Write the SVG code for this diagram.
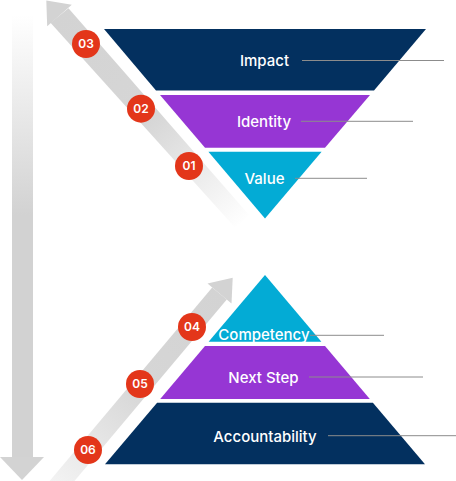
<svg xmlns="http://www.w3.org/2000/svg" width="456" height="481" viewBox="0 0 456 481">
  <defs>
    <linearGradient id="gLeft" gradientUnits="userSpaceOnUse" x1="0" y1="15" x2="0" y2="215">
      <stop offset="0" stop-color="#ffffff"/>
      <stop offset="1" stop-color="#d2d2d2"/>
    </linearGradient>
    <linearGradient id="gUp" gradientUnits="userSpaceOnUse" x1="59.5" y1="15.5" x2="242" y2="224">
      <stop offset="0" stop-color="#d3d3d3"/>
      <stop offset="0.5" stop-color="#d6d6d6"/>
      <stop offset="1" stop-color="#ffffff"/>
    </linearGradient>
    <linearGradient id="gLow" gradientUnits="userSpaceOnUse" x1="219.5" y1="293.5" x2="46" y2="500">
      <stop offset="0" stop-color="#d3d3d3"/>
      <stop offset="0.45" stop-color="#d6d6d6"/>
      <stop offset="1" stop-color="#f7f7f7"/>
    </linearGradient>
    <style>
      .lbl { font-family: Inter, "Noto Sans", "Liberation Sans", sans-serif; font-size: 15px; font-weight: 500; fill: #ffffff; text-anchor: middle; }
      .num { font-family: Inter, "Noto Sans", "Liberation Sans", sans-serif; font-size: 12px; font-weight: 600; fill: #ffffff; text-anchor: middle; }
      .badge { fill: #e3361a; }
      .lead { stroke: #8c8c8c; stroke-width: 1; fill: none; }
      .navy { fill: #03305f; }
      .purple { fill: #9636d4; }
      .cyan { fill: #03abd5; }
      .head { fill: #d3d3d3; }
    </style>
  </defs>

  <g id="arrows">
    <g id="arrow-left">
      <rect x="12" y="15" width="21" height="443" fill="url(#gLeft)"/>
      <polygon class="head" points="0,457 44,457 22,480"/>
    </g>
    <g id="arrow-up">
      <polygon points="68.5,8.3 249.5,215.5 235,227.5 50.5,22.7" fill="url(#gUp)"/>
      <polygon class="head" points="71.8,4.8 46.3,0.4 47.2,26.2"/>
    </g>
    <g id="arrow-low">
      <polygon points="226.8,299.6 53.4,506.1 38.8,493.9 212.2,287.4" fill="url(#gLow)"/>
      <polygon class="head" points="207.5,283.4 232.7,277.8 231.5,303.6"/>
    </g>
  </g>

  <g id="node-impact">
    <polygon class="navy" points="104,29 426,29 374,90.5 156,90.5"/>
    <text class="lbl" x="264.5" y="66">Impact</text>
  </g>
  <g id="node-identity">
    <polygon class="purple" points="160,95 370,95 325,147.7 205,147.7"/>
    <text class="lbl" x="264" y="126.5">Identity</text>
  </g>
  <g id="node-value">
    <polygon class="cyan" points="208.4,151.7 321.6,151.7 265,218.4"/>
    <text class="lbl" x="264.5" y="184">Value</text>
  </g>
  <g id="node-competency">
    <polygon class="cyan" points="265,275 321.4,341.7 208.6,341.7"/>
    <text class="lbl" x="264" y="339.5">Competency</text>
  </g>
  <g id="node-nextstep">
    <polygon class="purple" points="205,346 325,346 369.8,399 160.2,399"/>
    <text class="lbl" x="263.5" y="383">Next Step</text>
  </g>
  <g id="node-accountability">
    <polygon class="navy" points="157.1,402.7 372.9,402.7 425,464.3 105,464.3"/>
    <text class="lbl" x="265" y="442">Accountability</text>
  </g>

  <g id="connectors">
    <line class="lead" x1="302" y1="60.5" x2="444" y2="60.5"/>
    <line class="lead" x1="301" y1="121.3" x2="413" y2="121.3"/>
    <line class="lead" x1="295" y1="178.3" x2="367" y2="178.3"/>
    <line class="lead" x1="310" y1="335.3" x2="384" y2="335.3"/>
    <line class="lead" x1="309" y1="377" x2="423" y2="377"/>
    <line class="lead" x1="328" y1="435.7" x2="456" y2="435.7"/>
  </g>

  <g id="badge-03">
    <circle class="badge" cx="86" cy="44" r="14"/>
    <text class="num" x="86" y="48.3">03</text>
  </g>
  <g id="badge-02">
    <circle class="badge" cx="141" cy="108.7" r="14"/>
    <text class="num" x="141" y="113">02</text>
  </g>
  <g id="badge-01">
    <circle class="badge" cx="189" cy="166" r="14"/>
    <text class="num" x="189" y="170.3">01</text>
  </g>
  <g id="badge-04">
    <circle class="badge" cx="192" cy="327" r="14"/>
    <text class="num" x="192" y="331.3">04</text>
  </g>
  <g id="badge-05">
    <circle class="badge" cx="140" cy="384" r="14"/>
    <text class="num" x="140" y="388.3">05</text>
  </g>
  <g id="badge-06">
    <circle class="badge" cx="88" cy="450" r="14"/>
    <text class="num" x="88" y="454.3">06</text>
  </g>
</svg>
